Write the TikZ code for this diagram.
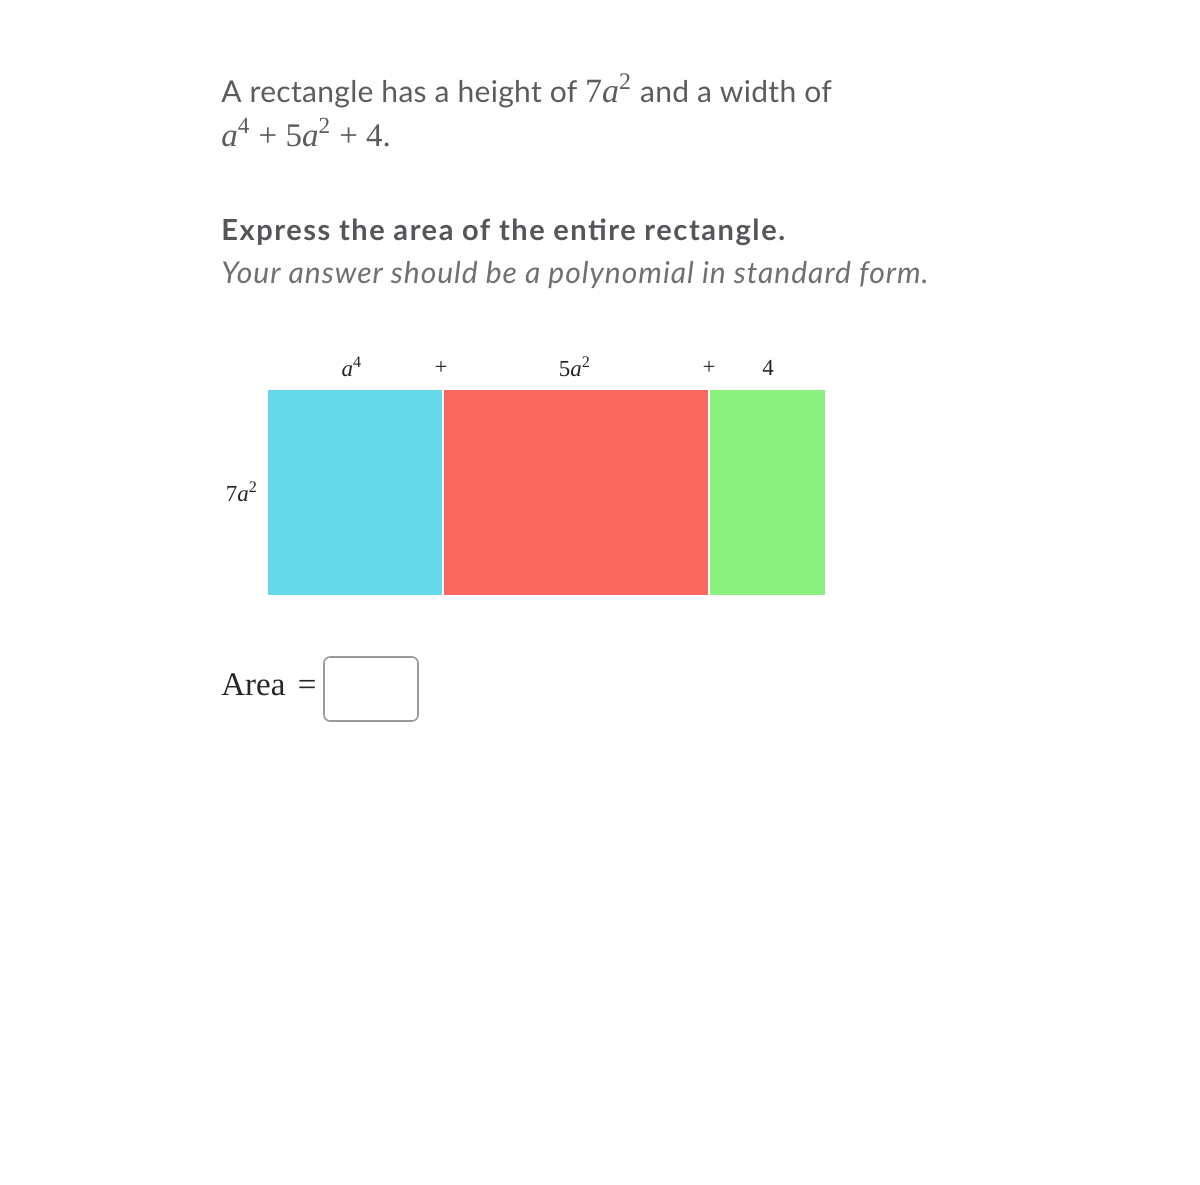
\documentclass[tikz,border=0pt]{standalone}
\usepackage{fontspec}
\setmainfont{Lato}
\newfontfamily\tms{Liberation Serif}
\definecolor{cyanbox}{HTML}{66D9E9}
\definecolor{redbox}{HTML}{F9675F}
\definecolor{greenbox}{HTML}{8AF17E}
\definecolor{txtgray}{HTML}{5C5C5E}
\definecolor{boldgray}{HTML}{54565A}
\definecolor{itgray}{HTML}{707070}
\definecolor{boxedge}{HTML}{9A9A9A}
\newcommand\va{\textit{a}}
\tikzset{
  line/.style={anchor=base west, inner sep=0pt, text=txtgray},
  lbl/.style={inner sep=0pt, font=\tms\fontsize{11.5}{13}\selectfont, text=black!85}
}
\begin{document}
\begin{tikzpicture}[x=0.5pt,y=-0.5pt]
\useasboundingbox[fill=white] (0,0) rectangle (1200,1184);
\node[line, font=\fontsize{15}{18}\selectfont\addfontfeature{LetterSpace=1}] (l1) at (221,102)
  {A rectangle has a height of {\tms\fontsize{17}{18}\selectfont 7\va\textsuperscript{2}} and a width of};
\node[line, font=\tms\fontsize{16.5}{18}\selectfont] (l2) at (221,146)
  {\va\textsuperscript{4} + 5\va\textsuperscript{2} + 4.};
\node[line, font=\bfseries\fontsize{14.5}{18}\selectfont\addfontfeature{LetterSpace=5.4}, text=boldgray] (l3) at (221,240)
  {Express the area of the entire rectangle.};
\node[line, font=\itshape\fontsize{15}{18}\selectfont\addfontfeature{LetterSpace=3.3}, text=itgray] (l4) at (221,283)
  {Your answer should be a polynomial in standard form.};
% rectangles
\fill[cyanbox] (268,390) rectangle (442,595);
\fill[redbox] (444,390) rectangle (708,595);
\fill[greenbox] (710,390) rectangle (825,595);
% labels
\node[lbl] (t1) at (352,367) {\va\textsuperscript{4}};
\node[lbl] (p1) at (441,368) {+};
\node[lbl] (t2) at (575,367) {5\va\textsuperscript{2}};
\node[lbl] (p2) at (709,368) {+};
\node[lbl] (t3) at (768,368) {4};
\node[lbl] (h) at (242,492) {7\va\textsuperscript{2}};
% area
\node[line, font=\tms\fontsize{16.5}{20}\selectfont, text=black!85] (ar) at (221,695) {Area\hspace{2pt} =};
\node[draw=boxedge, line width=0.8pt, rounded corners=3pt, minimum width=47pt, minimum height=32pt, inner sep=0pt] (box) at (371,689) {};
\end{tikzpicture}
\end{document}
